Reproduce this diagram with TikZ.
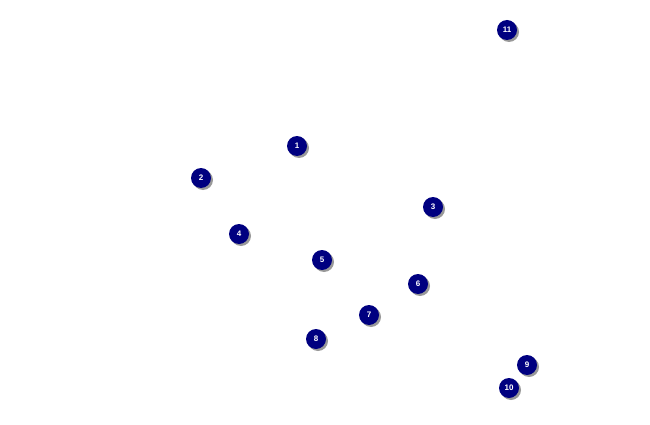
\documentclass[tikz,border=0pt]{standalone}
\usepackage{fontspec}
\setsansfont{Liberation Sans}
\usetikzlibrary{shadows}
\definecolor{dotBody}{rgb}{0,0,0.5}
\tikzset{
  dot/.style={circle, fill=dotBody, minimum size=20pt, inner sep=0pt,
    text=white, font={\sffamily\bfseries\fontsize{8}{8}\selectfont},
    drop shadow={shadow xshift=2pt, shadow yshift=-2pt, fill=black!40, opacity=1}},
}
\begin{document}
\begin{tikzpicture}[x=1pt, y=-1pt]
  \useasboundingbox (0,0) rectangle (650,425);
  \node[dot] (n1) at (297,146) {1};
  \node[dot] (n2) at (201,178) {2};
  \node[dot] (n3) at (433,207) {3};
  \node[dot] (n4) at (239,234) {4};
  \node[dot] (n5) at (322,260) {5};
  \node[dot] (n6) at (418,284) {6};
  \node[dot] (n7) at (369,315) {7};
  \node[dot] (n8) at (316,339) {8};
  \node[dot] (n9) at (527,365) {9};
  \node[dot] (n10) at (509,388) {10};
  \node[dot] (n11) at (507,30) {11};
\end{tikzpicture}
\end{document}
